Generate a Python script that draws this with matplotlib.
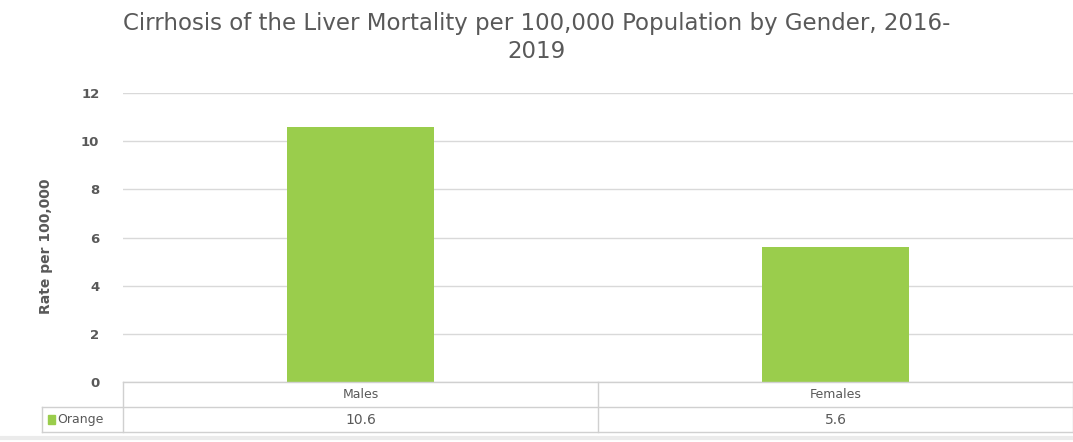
import matplotlib.pyplot as plt
from matplotlib.lines import Line2D

# data
categories = ['Males', 'Females']
rates = [10.6, 5.6]
series_name = 'Orange'
yticks = [0, 2, 4, 6, 8, 10, 12]

bar_color = '#9ACD4C'
text_color = '#595959'
grid_color = '#D9D9D9'

plt.rcParams['font.family'] = ['DejaVu Sans']

fig = plt.figure(figsize=(10.73, 4.42), dpi=100)
ax = fig.add_axes([0.1146, 0.1357, 0.8854, 0.6539])

x = list(range(len(categories)))
ax.bar(x, rates, width=0.31, color=bar_color, zorder=3)
ax.set_xlim(-0.5, len(categories) - 0.5)
ax.set_ylim(0, 12)
ax.set_yticks(yticks)
ax.set_yticklabels([str(t) for t in yticks], fontsize=9.5, color=text_color, fontweight='bold')
ax.tick_params(axis='y', length=0, pad=17)
ax.set_xticks([])
ax.grid(axis='y', color=grid_color, linewidth=1, zorder=0)
for s in ax.spines.values():
    s.set_visible(False)

ax.set_ylabel('Rate per 100,000', fontsize=10, color=text_color, fontweight='bold')
ax.yaxis.set_label_coords(-0.074, 0.47)

fig.suptitle('Cirrhosis of the Liver Mortality per 100,000 Population by Gender, 2016-\n2019',
             fontsize=16.5, color=text_color, y=0.972, linespacing=1.25)

# data table drawn under the axes
W, H = 1073.0, 442.0
def fx(px):
    return px / W
def fy(py):
    return 1 - py / H

col_edges = [123, 598, 1073]
row_edges = [382, 407, 432]
lc = '#D0D0D0'
# horizontal lines
for ry in row_edges:
    x0 = 123 if ry == row_edges[0] else 42
    fig.add_artist(Line2D([fx(x0), fx(1073)], [fy(ry), fy(ry)], color=lc, lw=1))
# vertical lines
for cx in col_edges:
    fig.add_artist(Line2D([fx(cx), fx(cx)], [fy(382), fy(432)], color=lc, lw=1))
fig.add_artist(Line2D([fx(42), fx(42)], [fy(407), fy(432)], color=lc, lw=1))
# bottom shadow
fig.add_artist(Line2D([fx(0), fx(1073)], [fy(438), fy(438)], color='#EBEBEB', lw=3))

for i, cat in enumerate(categories):
    cx = (col_edges[i] + col_edges[i + 1]) / 2
    fig.text(fx(cx), fy(394.5), cat, ha='center', va='center', fontsize=9, color=text_color)
    fig.text(fx(cx), fy(419.5), f'{rates[i]:.1f}', ha='center', va='center', fontsize=10, color=text_color)

fig.add_artist(plt.Rectangle((fx(48), fy(424)), 7 / W, 9 / H, color=bar_color, transform=fig.transFigure))
fig.text(fx(57), fy(419.5), series_name, ha='left', va='center', fontsize=9, color=text_color)

fig.savefig('out.png', dpi=100)
